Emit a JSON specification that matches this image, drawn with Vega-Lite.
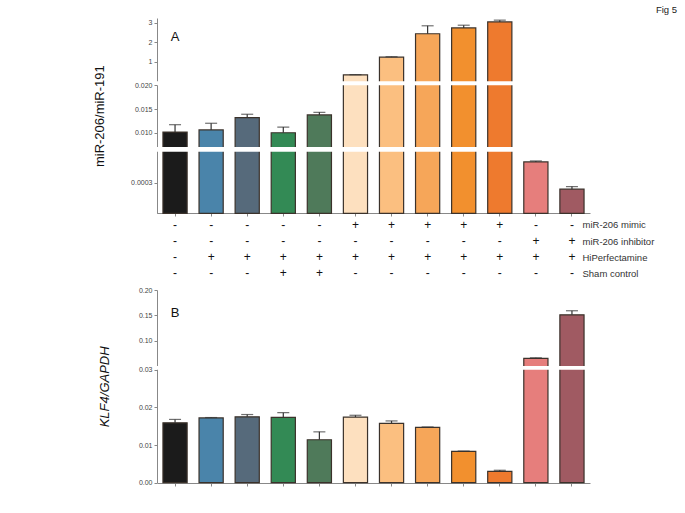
{
  "$schema": "https://vega.github.io/schema/vega-lite/v6.json",
  "padding": {"left": 93, "top": 4, "right": 5, "bottom": 5},
  "background": "white",
  "config": {"font": "Liberation Sans", "view": {"stroke": null}},
  "datasets": {
    "d": [
      {"g": "1", "mir": 0.01015, "mir_err": 0.0117, "klf": 0.0159, "klf_err": 0.0168, "miR-206 mimic": "-", "miR-206 inhibitor": "-", "HiPerfectamine": "-", "Sham control": "-"},
      {"g": "2", "mir": 0.0106, "mir_err": 0.0120, "klf": 0.0172, "klf_err": 0.0173, "miR-206 mimic": "-", "miR-206 inhibitor": "-", "HiPerfectamine": "+", "Sham control": "-"},
      {"g": "3", "mir": 0.0132, "mir_err": 0.0139, "klf": 0.0175, "klf_err": 0.0181, "miR-206 mimic": "-", "miR-206 inhibitor": "-", "HiPerfectamine": "+", "Sham control": "-"},
      {"g": "4", "mir": 0.0100, "mir_err": 0.0112, "klf": 0.01735, "klf_err": 0.0186, "miR-206 mimic": "-", "miR-206 inhibitor": "-", "HiPerfectamine": "+", "Sham control": "+"},
      {"g": "5", "mir": 0.01375, "mir_err": 0.0143, "klf": 0.0114, "klf_err": 0.0135, "miR-206 mimic": "-", "miR-206 inhibitor": "-", "HiPerfectamine": "+", "Sham control": "+"},
      {"g": "6", "mir": 0.33, "mir_err": 0.34, "klf": 0.01743, "klf_err": 0.0179, "miR-206 mimic": "+", "miR-206 inhibitor": "-", "HiPerfectamine": "+", "Sham control": "-"},
      {"g": "7", "mir": 1.24, "mir_err": 1.26, "klf": 0.01575, "klf_err": 0.0164, "miR-206 mimic": "+", "miR-206 inhibitor": "-", "HiPerfectamine": "+", "Sham control": "-"},
      {"g": "8", "mir": 2.44, "mir_err": 2.85, "klf": 0.0147, "klf_err": 0.0148, "miR-206 mimic": "+", "miR-206 inhibitor": "-", "HiPerfectamine": "+", "Sham control": "-"},
      {"g": "9", "mir": 2.74, "mir_err": 2.88, "klf": 0.0083, "klf_err": 0.0084, "miR-206 mimic": "+", "miR-206 inhibitor": "-", "HiPerfectamine": "+", "Sham control": "-"},
      {"g": "10", "mir": 3.05, "mir_err": 3.14, "klf": 0.0030, "klf_err": 0.0033, "miR-206 mimic": "+", "miR-206 inhibitor": "-", "HiPerfectamine": "+", "Sham control": "-"},
      {"g": "11", "mir": 0.00050, "mir_err": 0.00051, "klf": 0.065, "klf_err": 0.066, "miR-206 mimic": "-", "miR-206 inhibitor": "+", "HiPerfectamine": "+", "Sham control": "-"},
      {"g": "12", "mir": 0.000235, "mir_err": 0.00026, "klf": 0.151, "klf_err": 0.159, "miR-206 mimic": "-", "miR-206 inhibitor": "+", "HiPerfectamine": "+", "Sham control": "-"}
    ]
  },
  "spacing": 4,
  "bounds": "flush",
  "vconcat": [
    {
      "width": 433,
      "height": 195,
      "title": {"text": "Fig 5", "anchor": "end", "fontSize": 9.5, "fontWeight": "normal", "dx": 87, "offset": 4, "color": "#222"},
      "layer": [
        {
          "data": {"name": "d"},
          "mark": {"type": "bar", "stroke": "#3b322b", "strokeWidth": 1.2},
          "encoding": {
            "x": {"field": "g", "type": "ordinal", "scale": {"domain": ["1","2","3","4","5","6","7","8","9","10","11","12"], "paddingInner": 0.33, "paddingOuter": 0.165}, "axis": {"labels": false, "title": null, "domainColor": "#888", "tickColor": "#888", "tickSize": 3}},
            "y": {"field": "mir", "type": "quantitative", "scale": {"domain": [0, 0.0006, 0.007, 0.020, 0.025, 3.25], "range": [195.3, 133.7, 129, 67.3, 62.8, 0], "nice": false, "zero": false},
              "axis": {"values": [0.0003, 0.01, 0.015, 0.02, 1, 2, 3], "tickCount": 50, "labelExpr": "datum.value >= 1 ? format(datum.value, 'd') : datum.value >= 0.005 ? format(datum.value, '.3f') : format(datum.value, '.4f')", "labelOverlap": false, "labelBound": false, "grid": false, "title": "miR-206/miR-191", "titleFontSize": 13, "titleFontWeight": "normal", "titleColor": "#111", "titlePadding": 24, "labelFontSize": 7, "labelColor": "#444", "domainColor": "#888", "tickColor": "#888", "tickSize": 3}},
            "color": {"field": "g", "type": "nominal", "scale": {"domain": ["1","2","3","4","5","6","7","8","9","10","11","12"], "range": ["#1b1b1b", "#4a84aa", "#566a7b", "#338a55", "#4f7a5a", "#fde0bf", "#fbbf80", "#f6a659", "#f2902e", "#ee7a2e", "#e67e7c", "#a05a62"]}, "legend": null}
          }
        },
        {
          "data": {"name": "d"},
          "mark": {"type": "rule", "color": "#333", "strokeWidth": 1.2},
          "encoding": {
            "x": {"field": "g", "type": "ordinal"},
            "y": {"field": "mir", "type": "quantitative"},
            "y2": {"field": "mir_err"}
          }
        },
        {
          "data": {"name": "d"},
          "mark": {"type": "tick", "color": "#333", "thickness": 1.2, "size": 12},
          "encoding": {
            "x": {"field": "g", "type": "ordinal"},
            "y": {"field": "mir_err", "type": "quantitative"}
          }
        },
        {
          "data": {"values": [{"lo": 0.00062, "hi": 0.0069}, {"lo": 0.0201, "hi": 0.0245}]},
          "mark": {"type": "rect", "color": "white"},
          "encoding": {
            "y": {"field": "lo", "type": "quantitative"},
            "y2": {"field": "hi"}
          }
        },
        {
          "data": {"values": [{"t": "A", "g": "1", "v": 2.26}]},
          "mark": {"type": "text", "fontSize": 13, "color": "#111"},
          "encoding": {
            "x": {"field": "g", "type": "ordinal"},
            "y": {"field": "v", "type": "quantitative"},
            "text": {"field": "t"}
          }
        }
      ]
    },
    {
      "width": 433,
      "height": 69,
      "data": {"name": "d"},
      "transform": [{"fold": ["miR-206 mimic", "miR-206 inhibitor", "HiPerfectamine", "Sham control"], "as": ["cond", "sign"]}],
      "mark": {"type": "text", "fontSize": 12, "color": "#111"},
      "encoding": {
        "x": {"field": "g", "type": "ordinal", "scale": {"domain": ["1","2","3","4","5","6","7","8","9","10","11","12"], "paddingInner": 0.33, "paddingOuter": 0.165}, "axis": null},
        "y": {"field": "cond", "type": "ordinal", "sort": ["miR-206 mimic", "miR-206 inhibitor", "HiPerfectamine", "Sham control"], "scale": {"type": "point", "padding": 0.656, "align": 0.381},
          "axis": {"orient": "right", "title": null, "domain": false, "ticks": false, "labelPadding": 0, "offset": -8, "labelFontSize": 9.5, "labelColor": "#333", "labelAlign": "left"}},
        "text": {"field": "sign"}
      }
    },
    {
      "width": 433,
      "height": 193,
      "layer": [
        {
          "data": {"name": "d"},
          "mark": {"type": "bar", "stroke": "#3b322b", "strokeWidth": 1.2},
          "encoding": {
            "x": {"field": "g", "type": "ordinal", "scale": {"domain": ["1","2","3","4","5","6","7","8","9","10","11","12"], "paddingInner": 0.33, "paddingOuter": 0.165}, "axis": {"labels": false, "title": null, "domainColor": "#888", "tickColor": "#888", "tickSize": 3}},
            "y": {"field": "klf", "type": "quantitative", "scale": {"domain": [0, 0.03, 0.05, 0.20], "range": [192.7, 79.7, 75.9, 0], "nice": false, "zero": false},
              "axis": {"values": [0, 0.01, 0.02, 0.03, 0.10, 0.15, 0.20], "tickCount": 50, "format": ".2f", "labelOverlap": false, "labelBound": false, "grid": false, "title": "KLF4/GAPDH", "titleFontSize": 13, "titleFontWeight": "normal", "titleFontStyle": "italic", "titleColor": "#111", "titlePadding": 27, "labelFontSize": 7, "labelColor": "#444", "domainColor": "#888", "tickColor": "#888", "tickSize": 3}},
            "color": {"field": "g", "type": "nominal", "scale": {"domain": ["1","2","3","4","5","6","7","8","9","10","11","12"], "range": ["#1b1b1b", "#4a84aa", "#566a7b", "#338a55", "#4f7a5a", "#fde0bf", "#fbbf80", "#f6a659", "#f2902e", "#ee7a2e", "#e67e7c", "#a05a62"]}, "legend": null}
          }
        },
        {
          "data": {"name": "d"},
          "mark": {"type": "rule", "color": "#333", "strokeWidth": 1.2},
          "encoding": {
            "x": {"field": "g", "type": "ordinal"},
            "y": {"field": "klf", "type": "quantitative"},
            "y2": {"field": "klf_err"}
          }
        },
        {
          "data": {"name": "d"},
          "mark": {"type": "tick", "color": "#333", "thickness": 1.2, "size": 12},
          "encoding": {
            "x": {"field": "g", "type": "ordinal"},
            "y": {"field": "klf_err", "type": "quantitative"}
          }
        },
        {
          "data": {"values": [{"lo": 0.0302, "hi": 0.0495}]},
          "mark": {"type": "rect", "color": "white"},
          "encoding": {
            "y": {"field": "lo", "type": "quantitative"},
            "y2": {"field": "hi"}
          }
        },
        {
          "data": {"values": [{"t": "B", "g": "1", "v": 0.1555}]},
          "mark": {"type": "text", "fontSize": 13, "color": "#111"},
          "encoding": {
            "x": {"field": "g", "type": "ordinal"},
            "y": {"field": "v", "type": "quantitative"},
            "text": {"field": "t"}
          }
        }
      ]
    }
  ]
}
